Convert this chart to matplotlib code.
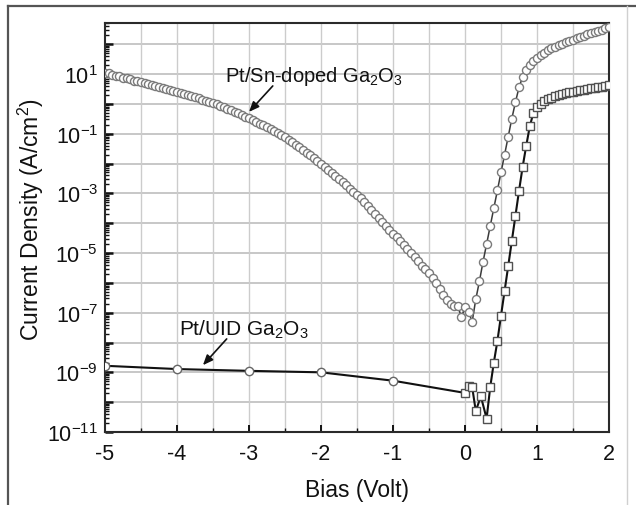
import numpy as np
import matplotlib
matplotlib.use("Agg")
import matplotlib.pyplot as plt
from matplotlib.lines import Line2D
from matplotlib.ticker import FixedLocator, LogLocator, FuncFormatter, MultipleLocator

plt.rcParams['font.family'] = ['Liberation Sans', 'DejaVu Sans']
plt.rcParams['mathtext.fontset'] = 'custom'
plt.rcParams['mathtext.rm'] = 'Liberation Sans'
plt.rcParams['mathtext.it'] = 'Liberation Sans:italic'
plt.rcParams['mathtext.bf'] = 'Liberation Sans:bold'
plt.rcParams['axes.unicode_minus'] = False

# Pt/Sn-doped Ga2O3: bias (V) and log10 of current density (A/cm^2)
sn_bias = [
    -5.00, -4.95, -4.90, -4.85, -4.80, -4.75, -4.70, -4.65, -4.60, -4.55,
    -4.50, -4.45, -4.40, -4.35, -4.30, -4.25, -4.20, -4.15, -4.10, -4.05,
    -4.00, -3.95, -3.90, -3.85, -3.80, -3.75, -3.70, -3.65, -3.60, -3.55,
    -3.50, -3.45, -3.40, -3.35, -3.30, -3.25, -3.20, -3.15, -3.10, -3.05,
    -3.00, -2.95, -2.90, -2.85, -2.80, -2.75, -2.70, -2.65, -2.60, -2.55,
    -2.50, -2.45, -2.40, -2.35, -2.30, -2.25, -2.20, -2.15, -2.10, -2.05,
    -2.00, -1.95, -1.90, -1.85, -1.80, -1.75, -1.70, -1.65, -1.60, -1.55,
    -1.50, -1.45, -1.40, -1.35, -1.30, -1.25, -1.20, -1.15, -1.10, -1.05,
    -1.00, -0.95, -0.90, -0.85, -0.80, -0.75, -0.70, -0.65, -0.60, -0.55,
    -0.50, -0.45, -0.40, -0.35, -0.30, -0.25, -0.20, -0.15, -0.10, -0.05,
    0.00, 0.05, 0.10, 0.15, 0.20, 0.25, 0.30, 0.35, 0.40, 0.45,
    0.50, 0.55, 0.60, 0.65, 0.70, 0.75, 0.80, 0.85, 0.90, 0.95,
    1.00, 1.05, 1.10, 1.15, 1.20, 1.25, 1.30, 1.35, 1.40, 1.45,
    1.50, 1.55, 1.60, 1.65, 1.70, 1.75, 1.80, 1.85, 1.90, 1.95,
    2.00,
]
sn_logj = [
    1.05, 1.02, 0.98, 0.95, 0.92, 0.88, 0.85, 0.82, 0.78, 0.75,
    0.72, 0.69, 0.66, 0.62, 0.59, 0.56, 0.53, 0.50, 0.46, 0.43,
    0.40, 0.37, 0.33, 0.30, 0.26, 0.22, 0.18, 0.14, 0.11, 0.07,
    0.03, -0.02, -0.07, -0.12, -0.17, -0.22, -0.27, -0.32, -0.37, -0.43,
    -0.48, -0.54, -0.60, -0.66, -0.72, -0.78, -0.85, -0.92, -0.98, -1.05,
    -1.12, -1.20, -1.28, -1.37, -1.46, -1.55, -1.64, -1.73, -1.83, -1.92,
    -2.02, -2.12, -2.22, -2.32, -2.42, -2.53, -2.63, -2.73, -2.84, -2.94,
    -3.05, -3.17, -3.30, -3.43, -3.56, -3.69, -3.82, -3.95, -4.08, -4.22,
    -4.35, -4.48, -4.61, -4.74, -4.87, -5.00, -5.14, -5.28, -5.42, -5.54,
    -5.66, -5.83, -6.00, -6.20, -6.42, -6.58, -6.70, -6.76, -6.78, -7.15,
    -6.82, -6.98, -7.30, -6.55, -5.95, -5.30, -4.70, -4.10, -3.50, -2.90,
    -2.30, -1.70, -1.10, -0.50, 0.05, 0.55, 0.90, 1.13, 1.30, 1.43,
    1.54, 1.63, 1.71, 1.79, 1.86, 1.92, 1.97, 2.02, 2.06, 2.11,
    2.15, 2.20, 2.24, 2.29, 2.33, 2.37, 2.41, 2.45, 2.49, 2.53,
    2.56,
]

# Pt/UID Ga2O3: reverse-bias points, then the forward sweep
uid_rev_bias = [-5.0, -4.0, -3.0, -2.0, -1.0]
uid_rev_logj = [-8.78, -8.89, -8.95, -9.00, -9.28]
uid_fwd_bias = [
    0.00, 0.05, 0.10, 0.15, 0.22, 0.30, 0.35, 0.40, 0.45, 0.50,
    0.55, 0.60, 0.65, 0.70, 0.75, 0.80, 0.85, 0.90, 0.95, 1.00,
    1.05, 1.10, 1.15, 1.20, 1.25, 1.30, 1.35, 1.40, 1.45, 1.50,
    1.55, 1.60, 1.65, 1.70, 1.75, 1.80, 1.85, 1.90, 1.95, 2.00,
]
uid_fwd_logj = [
    -9.69, -9.45, -9.50, -10.30, -9.80, -10.55, -9.50, -8.68, -7.95, -7.10,
    -6.27, -5.44, -4.60, -3.76, -2.92, -2.12, -1.41, -0.75, -0.30, -0.10,
    0.00, 0.08, 0.15, 0.21, 0.26, 0.30, 0.33, 0.36, 0.39, 0.41,
    0.43, 0.46, 0.48, 0.50, 0.52, 0.54, 0.56, 0.58, 0.60, 0.62,
]

x_ticks = [-5, -4, -3, -2, -1, 0, 1, 2]

W, H = 636, 506
fig = plt.figure(figsize=(W / 100, H / 100), dpi=100)
fig.patch.set_facecolor('white')
ax = fig.add_axes([105 / W, 1 - 433 / H, (609 - 105) / W, (433 - 24) / H])

sn_j = 10 ** np.array(sn_logj)
uid_bias = uid_rev_bias + uid_fwd_bias
uid_j = 10 ** np.array(uid_rev_logj + uid_fwd_logj)

# UID line, reverse circles, forward squares
ax.plot(uid_bias, uid_j, color='#111111', lw=1.5, zorder=3)
ax.plot(uid_rev_bias, 10 ** np.array(uid_rev_logj), ls='none', marker='o',
        ms=6.0, mfc='white', mec='#666666', mew=1.0, zorder=4)
ax.plot(uid_fwd_bias, 10 ** np.array(uid_fwd_logj), ls='none', marker='s',
        ms=5.4, mfc='white', mec='#505050', mew=1.0, zorder=4)

# Sn-doped curve
ax.plot(sn_bias, sn_j, color='#3a3a3a', lw=1.1, zorder=3)
ax.plot(sn_bias, sn_j, ls='none', marker='o', ms=5.8, mfc='white',
        mec='#7a7a7a', mew=1.0, zorder=4)

ax.set_xlim(-5, 2)
ax.set_yscale('log')
ax.set_ylim(1e-11, 10 ** 2.71)

ax.xaxis.set_major_locator(FixedLocator(x_ticks))
ax.xaxis.set_minor_locator(MultipleLocator(0.5))
ax.yaxis.set_major_locator(FixedLocator([10.0 ** k for k in range(-11, 3)]))
ax.yaxis.set_minor_locator(LogLocator(base=10, subs=np.arange(2, 10), numticks=30))


def ylab(v, pos):
    k = int(round(np.log10(v)))
    if k % 2 == 0:
        return ''
    return r'$10^{%d}$' % k


ax.yaxis.set_major_formatter(FuncFormatter(ylab))
ax.yaxis.set_minor_formatter(FuncFormatter(lambda v, p: ''))

ax.tick_params(which='both', direction='in', top=False, right=False,
               colors='#111111', labelcolor='#111111')
ax.tick_params(which='major', length=5, width=1.4, labelsize=15.5, pad=8)
ax.tick_params(which='minor', length=3, width=1.0)
ax.tick_params(axis='y', which='major', length=6, width=1.8, labelsize=15.5, pad=5)

# grid: every decade and every half volt
for k in range(-11, 3):
    ax.axhline(10.0 ** k, color='#bdbdbd', lw=1.2, zorder=1)
for v in np.arange(-4.5, 2.0, 0.5):
    ax.axvline(v, color='#cccccc', lw=1.0, zorder=1)

for s in ax.spines.values():
    s.set_color('#2a2a2a')
    s.set_linewidth(1.5)

ax.set_xlabel('Bias (Volt)', fontsize=16.5, color='#111111', labelpad=10)
ax.set_ylabel('Current Density (A/cm$^2$)', fontsize=16.5, color='#111111')
ax.yaxis.set_label_coords(-0.147, 0.523)
ax.yaxis.label.set_va('center')

ax.text(-3.33, 10 ** 0.77, 'Pt/Sn-doped Ga$_2$O$_3$', fontsize=14.5,
        ha='left', va='baseline', color='#111111', zorder=6)
ax.text(-3.97, 10 ** -7.75, 'Pt/UID Ga$_2$O$_3$', fontsize=15,
        ha='left', va='baseline', color='#111111', zorder=6)

arrow = dict(arrowstyle='-|>,head_length=0.6,head_width=0.25', color='#111111',
             lw=1.2, shrinkA=0, shrinkB=0)
ax.annotate('', xy=(-3.0, 10 ** -0.27), xytext=(-2.67, 10 ** 0.6),
            arrowprops=arrow, zorder=6)
ax.annotate('', xy=(-3.64, 10 ** -8.76), xytext=(-3.31, 10 ** -7.88),
            arrowprops=arrow, zorder=6)

# outer frame of the figure panel
fig.add_artist(Line2D([8 / W, 8 / W], [0, 1 - 7 / H], transform=fig.transFigure,
                      color='#555555', lw=1.6))
fig.add_artist(Line2D([8 / W, 1], [1 - 7 / H, 1 - 7 / H], transform=fig.transFigure,
                      color='#555555', lw=1.6))
fig.add_artist(Line2D([627 / W, 627 / W], [0, 1 - 7 / H], transform=fig.transFigure,
                      color='#d0d0d0', lw=1.0))

fig.savefig('out.png', dpi=100, facecolor='white')
